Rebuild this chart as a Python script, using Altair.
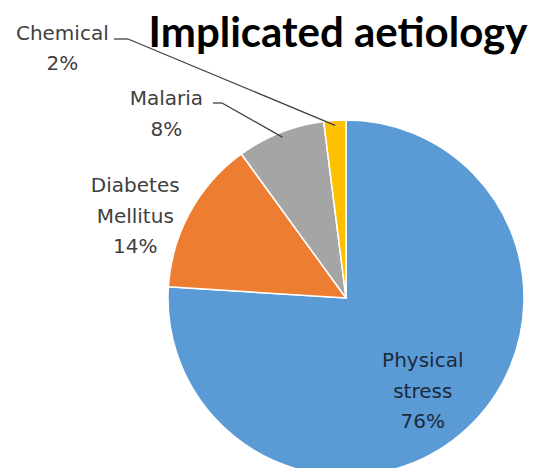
import altair as alt
import pandas as pd
import numpy as np

# ---- data ----
categories = ["Physical stress", "Diabetes Mellitus", "Malaria", "Chemical"]
percent = [76, 14, 8, 2]
label_names = ["Physical\nstress", "Diabetes\nMellitus", "Malaria", "Chemical"]
colors = ["#5B9BD5", "#ED7D31", "#A5A5A5", "#FFC000"]
title_text = "Implicated aetiology"

df = pd.DataFrame({
    "category": categories,
    "percent": percent,
    "order": list(range(len(categories))),
    "label": [f"{n}\n{p}%" for n, p in zip(label_names, percent)],
})

# ---- geometry / style ----
W, H = 531, 460
CX, CY, R = 338, 290, 178
FONT = "DejaVu Sans"
LABEL_SIZE = 20
LINE_H = 30.5

theta_scale = alt.Scale(domain=[0, 100])

pie = alt.Chart(df).mark_arc(outerRadius=R, stroke="white", strokeWidth=1.5).encode(
    theta=alt.Theta("percent:Q", stack=True, scale=theta_scale),
    color=alt.Color("category:N", scale=alt.Scale(domain=categories, range=colors), legend=None),
    order=alt.Order("order:Q"),
    x=alt.value(CX),
    y=alt.value(CY),
)

base = alt.Chart(df).transform_window(
    cum="sum(percent)", sort=[alt.SortField("order")], frame=[None, 0]
).transform_calculate(mid="datum.cum - datum.percent / 2")

# label placement: (radius, dx, dy, colour)
placement = {
    "Physical stress": (118, -4, -17, "#1b2a3c"),
    "Diabetes Mellitus": (220, -18, 0, "#404040"),
    "Malaria": (200, -106, -7, "#404040"),
    "Chemical": (250, -268, -8.5, "#404040"),
}

labels = []
for cat in categories:
    r, dx, dy, col = placement[cat]
    labels.append(
        base.transform_filter(alt.datum.category == cat).mark_text(
            radius=r, dx=dx, dy=dy, lineBreak="\n", lineHeight=LINE_H,
            font=FONT, fontSize=LABEL_SIZE, color=col, align="center", baseline="alphabetic",
        ).encode(
            theta=alt.Theta("mid:Q", stack=False, scale=theta_scale),
            text="label:N",
            x=alt.value(CX),
            y=alt.value(CY),
        )
    )

# leader lines: from slice mid-angle (computed from data) to the label
cum = np.cumsum(percent)
mids = cum - np.array(percent) / 2.0
def slice_point(idx, rr=173):
    ang = mids[idx] / 100.0 * 2 * np.pi
    return CX + rr * np.sin(ang), CY - rr * np.cos(ang)

leader_src = alt.Chart(pd.DataFrame({"k": [0]}))
leaders = []
for cat, (hx0, hx1, hy) in {"Chemical": (106, 120, 31), "Malaria": (205, 214, 95)}.items():
    px, py = slice_point(categories.index(cat))
    leaders.append(leader_src.mark_rule(color="#404040", strokeWidth=1.3).encode(
        x=alt.value(hx0), x2=alt.value(hx1), y=alt.value(hy), y2=alt.value(hy)))
    leaders.append(leader_src.mark_rule(color="#404040", strokeWidth=1.3).encode(
        x=alt.value(hx1), x2=alt.value(float(px)), y=alt.value(hy), y2=alt.value(float(py))))

title = leader_src.mark_text(
    text=title_text, font="Lato", fontWeight="bold", fontSize=42, color="#000000",
    align="center", baseline="alphabetic",
).encode(x=alt.value(330), y=alt.value(39))

chart = alt.layer(pie, *leaders, *labels, title).properties(
    width=W, height=H, padding=0, background="white",
    autosize=alt.AutoSizeParams(type="none"),
).configure_view(stroke=None)

chart.save("out.html", embed_options={"renderer": "svg", "actions": False})
